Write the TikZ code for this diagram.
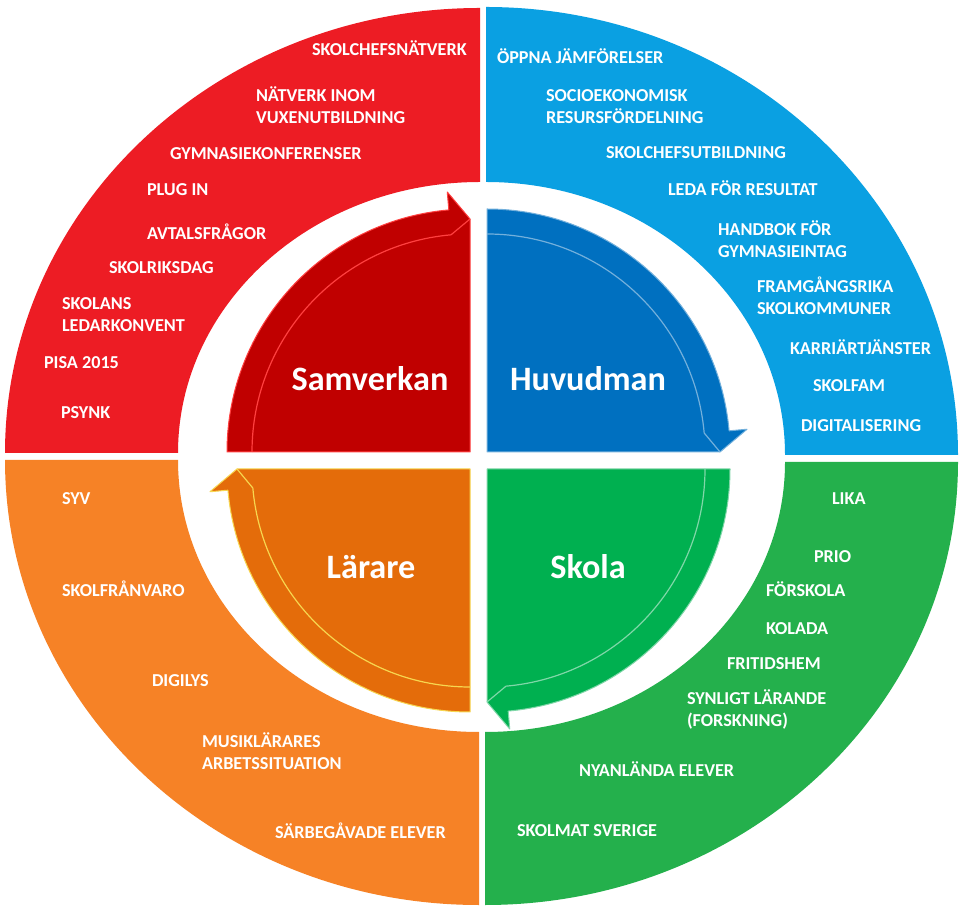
\documentclass[tikz,border=0pt]{standalone}
\usepackage{fontspec}
\setmainfont{Carlito}
\definecolor{redO}{RGB}{237,28,36}
\definecolor{redI}{RGB}{192,0,0}
\definecolor{blueO}{RGB}{10,160,226}
\definecolor{blueI}{RGB}{0,112,192}
\definecolor{orangeO}{RGB}{246,130,38}
\definecolor{orangeI}{RGB}{228,108,10}
\definecolor{greenO}{RGB}{36,176,76}
\definecolor{greenI}{RGB}{0,176,80}
\newcommand\qarrow[4]{%
  \fill[#3, draw=#4, line width=1pt, line join=round] (#1) -- ([shift={(#1)}]#2:243) arc[start angle=#2, end angle=#2-85, radius=243pt]
    -- ([shift={(#1)}]#2-85:261) -- ([shift={(#1)}]#2-90:233) -- cycle;
  \draw[#4, line width=1.2pt] ([shift={(#1)}]#2:218) arc[start angle=#2, end angle=#2-85, radius=218pt]
    -- ([shift={(#1)}]#2-90:233);
}
\tikzset{
  lbl/.style={font=\fontsize{18.2}{21.8}\selectfont\bfseries, text=white, inner sep=0pt, outer sep=0pt,
    text height=11.7pt, text depth=0pt, anchor=west},
  lbltwo/.style={font=\fontsize{18.2}{21.8}\selectfont\bfseries, text=white, inner sep=0pt, outer sep=0pt,
    align=left, anchor=north west},
  big/.style={font=\fontsize{34.2}{40}\selectfont\bfseries, text=white, inner sep=0pt, outer sep=0pt,
    text height=22pt, text depth=0pt, anchor=center},
}
\newcommand\fl[1]{\raisebox{0pt}[11.7pt][0pt]{#1}}
\begin{document}
\begin{tikzpicture}[x=1pt,y=1pt]
\fill[white] (0,0) rectangle (960,910);
\useasboundingbox (0,0) rectangle (960,910);
% outer ring quadrants
\fill[redO] (480,902) arc[start angle=90, end angle=180, x radius=475pt, y radius=445pt]
  -- (178,457) arc[start angle=180, end angle=90, x radius=302pt, y radius=271pt] -- cycle;
\fill[blueO] (958,455) arc[start angle=0, end angle=90, x radius=472pt, y radius=448pt]
  -- (486,728) arc[start angle=90, end angle=0, x radius=299pt, y radius=273pt] -- cycle;
\fill[orangeO] (5,450) arc[start angle=180, end angle=270, x radius=474pt, y radius=445pt]
  -- (479,178) arc[start angle=270, end angle=180, x radius=301pt, y radius=272pt] -- cycle;
\fill[greenO] (485,5) arc[start angle=270, end angle=360, x radius=473pt, y radius=443pt]
  -- (785,448) arc[start angle=360, end angle=270, x radius=300pt, y radius=270pt] -- cycle;
% inner arrows
\coordinate (cr) at (470,458);
\coordinate (cb) at (487,458);
\coordinate (cg) at (487,441);
\coordinate (co) at (470,441);
\qarrow{cr}{180}{redI}{red!75!white}
\qarrow{cb}{90}{blueI}{blueI!55!white}
\qarrow{cg}{0}{greenI}{greenI!50!white}
\qarrow{co}{270}{orangeI}{orangeI!40!yellow!70!white}
% big labels
\node[big] (samverkan) at (370,530) {Samverkan};
\node[big] (huvudman) at (588,530) {Huvudman};
\node[big] (larare) at (371,342) {Lärare};
\node[big] (skola) at (588,342) {Skola};
% red labels
\node[lbl] (r1) at (312,860) {SKOLCHEFSNÄTVERK};
\node[lbltwo] (r2) at (256,819.85) {\fl{NÄTVERK INOM}\\VUXENUTBILDNING};
\node[lbl] (r3) at (170,756) {GYMNASIEKONFERENSER};
\node[lbl] (r4) at (147,720) {PLUG IN};
\node[lbl] (r5) at (147,676) {AVTALSFRÅGOR};
\node[lbl] (r6) at (109,642) {SKOLRIKSDAG};
\node[lbltwo] (r7) at (62,611.85) {\fl{SKOLANS}\\LEDARKONVENT};
\node[lbl] (r8) at (44,547) {PISA 2015};
\node[lbl] (r9) at (61,497) {PSYNK};
% blue labels
\node[lbl] (b1) at (497,852) {ÖPPNA JÄMFÖRELSER};
\node[lbltwo] (b2) at (546,819.85) {\fl{SOCIOEKONOMISK}\\RESURSFÖRDELNING};
\node[lbl] (b3) at (606,757) {SKOLCHEFSUTBILDNING};
\node[lbl] (b4) at (668,720) {LEDA FÖR RESULTAT};
\node[lbltwo] (b5) at (718,685.85) {\fl{HANDBOK FÖR}\\GYMNASIEINTAG};
\node[lbltwo] (b6) at (757,628.85) {\fl{FRAMGÅNGSRIKA}\\SKOLKOMMUNER};
\node[lbl] (b7) at (790,561) {KARRIÄRTJÄNSTER};
\node[lbl] (b8) at (813,524) {SKOLFAM};
\node[lbl] (b9) at (801,484) {DIGITALISERING};
% orange labels
\node[lbl] (o1) at (62,411) {SYV};
\node[lbl] (o2) at (62,319) {SKOLFRÅNVARO};
\node[lbl] (o3) at (152,229) {DIGILYS};
\node[lbltwo] (o4) at (202,173.85) {\fl{MUSIKLÄRARES}\\ARBETSSITUATION};
\node[lbl] (o5) at (275,77) {SÄRBEGÅVADE ELEVER};
% green labels
\node[lbl] (g1) at (832,411) {LIKA};
\node[lbl] (g2) at (814,353) {PRIO};
\node[lbl] (g3) at (766,319) {FÖRSKOLA};
\node[lbl] (g4) at (766,281) {KOLADA};
\node[lbl] (g5) at (727,246) {FRITIDSHEM};
\node[lbltwo] (g6) at (687,216.85) {\fl{SYNLIGT LÄRANDE}\\(FORSKNING)};
\node[lbl] (g7) at (579,139) {NYANLÄNDA ELEVER};
\node[lbl] (g8) at (517,79) {SKOLMAT SVERIGE};
\end{tikzpicture}
\end{document}
